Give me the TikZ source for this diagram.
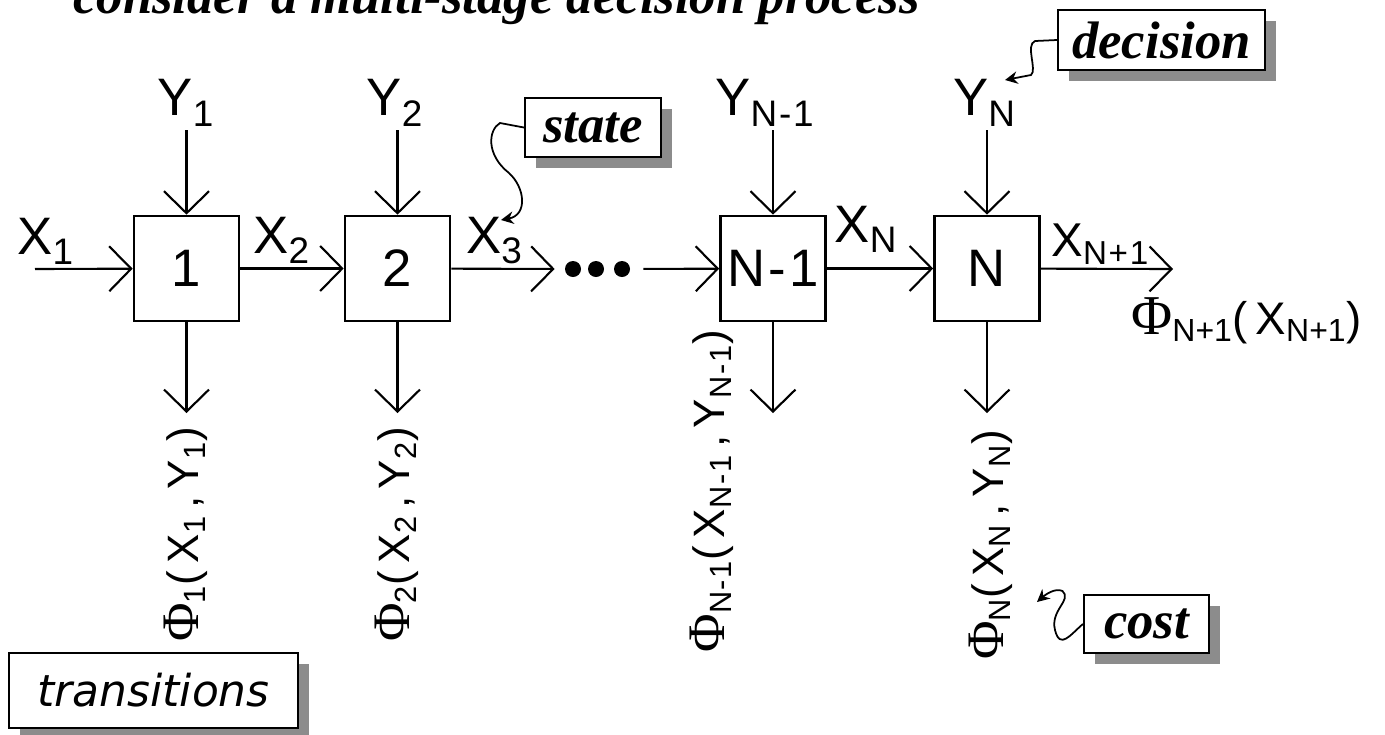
\documentclass[tikz,border=0pt]{standalone}
\usepackage{fontspec}
\setmainfont{Liberation Sans}
\newfontfamily\phifont{Liberation Serif}
\newfontfamily\slfont{DejaVu Sans}
\usepackage{tikz}
\usetikzlibrary{arrows.meta,positioning,shadows}
\newcommand{\PHI}[1][34]{{\phifont\fontsize{#1}{#1}\selectfont Φ}}

\begin{document}
\begin{tikzpicture}[
    stage/.style={draw, line width=1.5pt, minimum width=2.1cm, minimum height=2.1cm, inner sep=0pt, font=\fontsize{30}{34}\selectfont},
    arr/.style={-{Straight Barb[length=4.4mm, width=9mm]}, line width=1.2pt},
    lbl/.style={inner sep=2pt, font=\fontsize{30}{34}\selectfont},
    cost lbl/.style={inner sep=1pt, rotate=90, anchor=east, font=\fontsize{25}{30}\selectfont},
    note/.style={draw, fill=white, line width=1.2pt, inner sep=0pt, font=\phifont\bfseries\itshape\fontsize{30}{34}\selectfont, drop shadow={shadow xshift=0.22cm, shadow yshift=-0.22cm, fill=black!45, opacity=1}},
    wavy/.style={-{Stealth[length=2.5mm, width=2.5mm]}, line width=1pt},
    dot/.style={circle, fill, inner sep=0pt, minimum size=0.32cm}
]
\useasboundingbox (0,0) rectangle (27.7,-14.68);
\clip (0,0) rectangle (27.7,-14.68);
\node[anchor=base west, inner sep=0pt, font=\phifont\bfseries\itshape\fontsize{30}{34}\selectfont] (title) at (1.46,-0.26) {consider a multi-stage decision process};

\node[stage] (b1) at (3.73,-5.37) {1};
\node[stage] (b2) at (7.95,-5.37) {2};
\node[dot] (d1) at (11.46,-5.38) {};
\node[dot] (d2) at (11.92,-5.38) {};
\node[dot] (d3) at (12.44,-5.38) {};
\node[stage] (bN1) at (15.46,-5.37) {N\kern2pt-\kern2pt1};
\node[stage] (bN) at (19.74,-5.37) {N};
\coordinate (in1) at (0.70,-5.38);
\coordinate (outN) at (23.46,-5.38);

\node[lbl, anchor=south] (y1) at (3.72,-2.6) {Y\textsubscript{1}};
\node[lbl, anchor=south] (y2) at (7.90,-2.6) {Y\textsubscript{2}};
\node[lbl, anchor=south] (yN1) at (15.30,-2.6) {Y\textsubscript{N\kern1pt-\kern1pt1}};
\node[lbl, anchor=south] (yN) at (19.69,-2.6) {Y\textsubscript{N}};

\coordinate (o1) at (3.73,-8.26);
\coordinate (o2) at (7.95,-8.26);
\coordinate (oN1) at (15.46,-8.26);
\coordinate (oN) at (19.74,-8.26);

\node[cost lbl] (c1) at (3.72,-8.5) {\PHI[30]\textsubscript{1}(\,X\textsubscript{1}\,,\,Y\textsubscript{1})};
\node[cost lbl] (c2) at (7.94,-8.5) {\PHI[30]\textsubscript{2}(\,X\textsubscript{2}\,,\,Y\textsubscript{2})};
\node[cost lbl] (cN1) at (14.24,-6.56) {\PHI[30]\textsubscript{N\kern1pt-\kern1pt1}(\,X\textsubscript{N\kern1pt-\kern1pt1}\,,\,Y\textsubscript{N\kern1pt-\kern1pt1})};
\node[cost lbl] (cN) at (19.82,-8.56) {\PHI[30]\textsubscript{N}(\,X\textsubscript{N}\,,\,Y\textsubscript{N})};
\node[inner sep=0pt, anchor=north west, font=\fontsize{26}{30}\selectfont] (cEnd) at (22.62,-5.94) {\PHI[32]\textsubscript{N+1}(\,X\textsubscript{N+1})};

\node[note, minimum width=2.72cm, minimum height=1.18cm] (state) at (11.86,-2.55) {state};
\node[note, minimum width=4.14cm, minimum height=1.2cm] (decision) at (23.23,-0.8) {decision};
\node[note, minimum width=2.5cm, minimum height=1.16cm] (cost) at (22.93,-12.48) {cost};
\node[note, font=\slfont\itshape\fontsize{25}{30}\selectfont, minimum width=5.78cm, minimum height=1.5cm] (trans) at (3.07,-13.81) {transitions};
\coordinate (sTip) at (10.02,-4.4);
\coordinate (dTip) at (20.1,-1.6);
\coordinate (cTip) at (20.74,-12.04);

\draw[arr] (in1) -- node[lbl, above, pos=0.11] {X\textsubscript{1}} (b1);
\draw[arr] (b1) -- node[lbl, above, pos=0.4] {X\textsubscript{2}} (b2);
\draw[arr, shorten >=0.2cm] (b2) -- node[lbl, above, pos=0.38] {X\textsubscript{3}} (d1);
\draw[arr, shorten <=0.26cm] (d3) -- (bN1);
\draw[arr] (bN1) -- node[lbl, above, pos=0.37, yshift=0.22cm] {X\textsubscript{N}} (bN);
\draw[arr] (bN) -- node[lbl, above, pos=0.45, font=\fontsize{27}{30}\selectfont] {X\textsubscript{N\kern1pt+\kern1pt1}} (outN);

\draw[arr] (y1.south -| b1.north) -- (b1);
\draw[arr] (y2.south -| b2.north) -- (b2);
\draw[arr] (yN1.south -| bN1.north) -- (bN1);
\draw[arr] (yN.south -| bN.north) -- (bN);

\draw[arr] (b1) -- (o1);
\draw[arr] (b2) -- (o2);
\draw[arr] (bN1) -- (oN1);
\draw[arr] (bN) -- (oN);

\draw[wavy] (state.west) -- (10.0,-2.46) .. controls (9.76,-2.6) and (9.72,-3.1) .. (10.18,-3.46) .. controls (10.5,-3.75) and (10.56,-4.3) .. (sTip);
\draw[wavy] (decision.west) -- (20.7,-0.82) .. controls (20.5,-0.9) and (20.75,-1.4) .. (20.62,-1.5) -- (dTip);
\draw[wavy] (cost.west) .. controls (21.4,-12.7) and (21.2,-13.0) .. (21.1,-12.6) .. controls (21.0,-12.2) and (21.45,-12.0) .. (21.25,-11.82) .. controls (21.1,-11.75) and (20.9,-11.9) .. (cTip);
\end{tikzpicture}
\end{document}
